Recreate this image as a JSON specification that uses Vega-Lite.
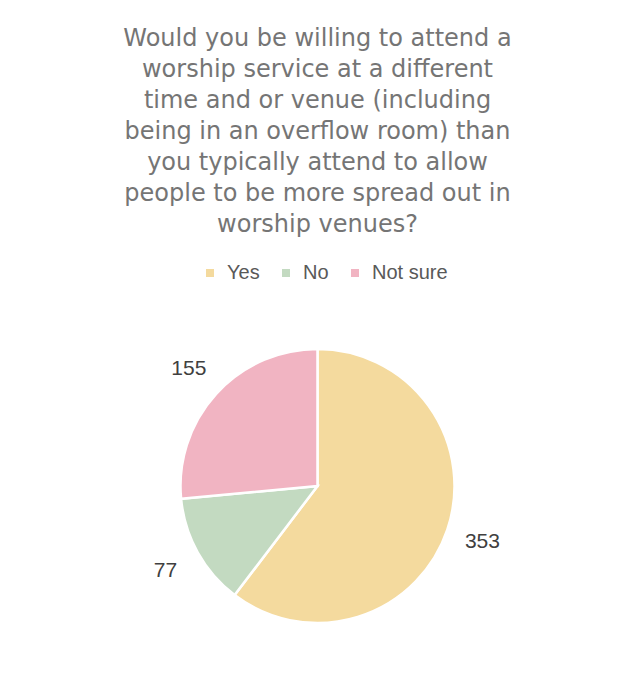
{
  "$schema": "https://vega.github.io/schema/vega-lite/v6.json",
  "width": 635,
  "height": 380,
  "autosize": {"type": "none"},
  "padding": {"top": 296, "left": 0, "right": 0, "bottom": 0},
  "background": "white",
  "config": {"view": {"stroke": null}},
  "title": {
    "text": ["Would you be willing to attend a", "worship service at a different", "time and or venue (including", "being in an overflow room) than", "you typically attend to allow", "people to be more spread out in", "worship venues?"],
    "font": "DejaVu Sans",
    "fontSize": 24,
    "fontWeight": "normal",
    "color": "#757575",
    "lineHeight": 31,
    "anchor": "middle",
    "frame": "group",
    "offset": 26
  },
  "data": {"values": [
    {"answer": "Yes", "count": 353, "idx": 1},
    {"answer": "No", "count": 77, "idx": 2},
    {"answer": "Not sure", "count": 155, "idx": 3}
  ]},
  "encoding": {
    "theta": {"field": "count", "type": "quantitative", "stack": true},
    "order": {"field": "idx", "type": "quantitative"},
    "color": {
      "field": "answer", "type": "nominal",
      "scale": {"domain": ["Yes", "No", "Not sure"], "range": ["#F4DA9E", "#C3DAC1", "#F1B4C2"]},
      "legend": {
        "title": null, "orient": "none", "direction": "horizontal",
        "legendX": 200, "legendY": -33,
        "symbolType": "square", "symbolSize": 64, "symbolStrokeWidth": 0,
        "labelFont": "Liberation Sans", "labelFontSize": 20, "labelColor": "#595959",
        "columnPadding": 16, "labelOffset": 7
      }
    }
  },
  "layer": [
    {"mark": {"type": "arc", "outerRadius": 137, "stroke": "white", "strokeWidth": 2.5}},
    {
      "mark": {"type": "text", "radius": 174, "font": "Liberation Sans", "fontSize": 21, "fill": "#404040"},
      "encoding": {"text": {"field": "count", "type": "quantitative"}, "color": {"value": "#404040"}}
    }
  ]
}
